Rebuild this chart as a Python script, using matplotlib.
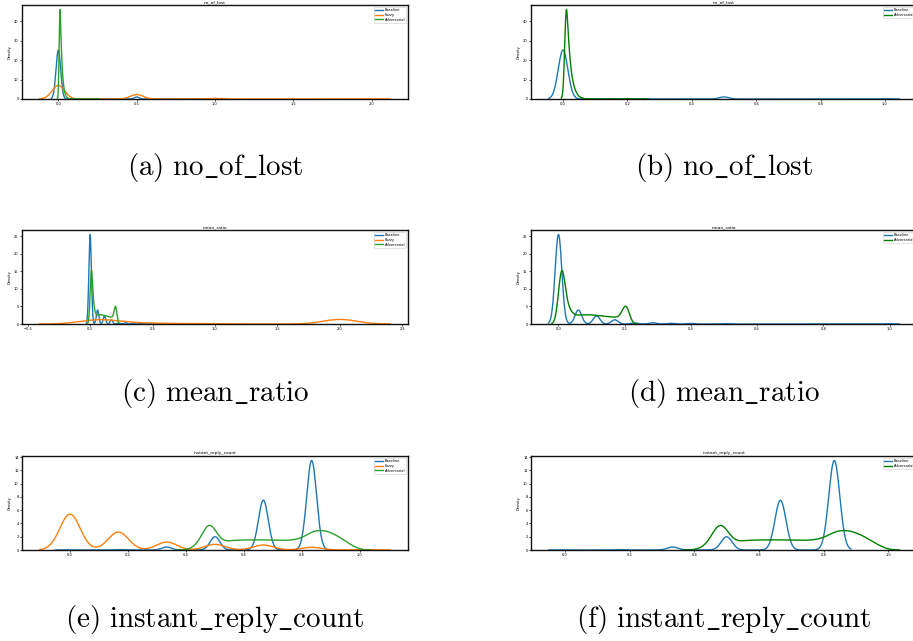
import numpy as np
import matplotlib
matplotlib.use("Agg")
import matplotlib.pyplot as plt
from matplotlib.ticker import MultipleLocator

# ---- observed values (location) and their relative weights per series ----
# no_of_lost
baseline_lost_vals = [0.0, 0.5, 1.0]
baseline_lost_wts = [0.95, 0.04, 0.005]
fuzzy_lost_vals = [0.0, 0.5, 1.0, 2.0]
fuzzy_lost_wts = [0.70, 0.23, 0.03, 0.01]
adv_lost_vals = [0.01, 0.02, 0.03, 0.04, 0.05, 0.06, 0.08, 0.10, 0.15, 0.20, 0.25]
adv_lost_wts = [0.545, 0.22, 0.09, 0.035, 0.012, 0.005, 0.002, 0.002, 0.002, 0.002, 0.002]

# mean_ratio
baseline_ratio_vals = [0.0, 0.06, 0.115, 0.17, 0.23, 0.285, 0.34, 0.40, 0.50, 1.0]
baseline_ratio_wts = [0.64, 0.10, 0.058, 0.03, 0.0075, 0.009, 0.005, 0.004, 0.002, 0.002]
fuzzy_ratio_vals = [0.0, 0.1, 0.2, 0.3, 0.5, 0.75, 1.0, 2.0]
fuzzy_ratio_wts = [0.20, 0.17, 0.10, 0.05, 0.06, 0.03, 0.03, 0.44]
adv_ratio_vals = [0.01, 0.03, 0.05, 0.07, 0.09, 0.11, 0.13, 0.15, 0.17, 0.19, 0.205]
adv_ratio_wts = [0.37, 0.09, 0.05, 0.052, 0.053, 0.05, 0.046, 0.042, 0.038, 0.045, 0.11]

# instant_reply_count
baseline_irc_vals = [0.0, 1 / 6, 2 / 6, 3 / 6, 4 / 6, 5 / 6]
baseline_irc_wts = [0.001, 0.002, 0.019, 0.085, 0.32, 0.575]
fuzzy_irc_vals = [0.0, 1 / 6, 2 / 6, 3 / 6, 4 / 6, 5 / 6, 1.0]
fuzzy_irc_wts = [0.474, 0.237, 0.105, 0.075, 0.066, 0.035, 0.005]
adv_irc_vals = [0.44, 0.48, 0.52, 0.56, 0.60, 0.64, 0.68, 0.72, 0.76, 0.80, 0.84, 0.88, 0.92, 0.96]
adv_irc_wts = [0.02, 0.215, 0.04, 0.06, 0.06, 0.062, 0.06, 0.058, 0.058, 0.07, 0.12, 0.12, 0.09, 0.04]

# kernel bandwidths
bandwidths = {
    "no_of_lost": {"Baseline": 0.015, "Fuzzy": 0.04, "Adversarial": 0.005},
    "mean_ratio": {"Baseline": 0.01, "Fuzzy": 0.135, "Adversarial": 0.01},
    "instant_reply_count": {"Baseline": 0.017, "Fuzzy": 0.035, "Adversarial": 0.025},
}

samples = {
    "no_of_lost": {
        "Baseline": (baseline_lost_vals, baseline_lost_wts),
        "Fuzzy": (fuzzy_lost_vals, fuzzy_lost_wts),
        "Adversarial": (adv_lost_vals, adv_lost_wts),
    },
    "mean_ratio": {
        "Baseline": (baseline_ratio_vals, baseline_ratio_wts),
        "Fuzzy": (fuzzy_ratio_vals, fuzzy_ratio_wts),
        "Adversarial": (adv_ratio_vals, adv_ratio_wts),
    },
    "instant_reply_count": {
        "Baseline": (baseline_irc_vals, baseline_irc_wts),
        "Fuzzy": (fuzzy_irc_vals, fuzzy_irc_wts),
        "Adversarial": (adv_irc_vals, adv_irc_wts),
    },
}

metrics = ["no_of_lost", "mean_ratio", "instant_reply_count"]
captions = [("(a)", "(b)"), ("(c)", "(d)"), ("(e)", "(f)")]
x_steps = {"no_of_lost": (0.5, 0.2), "mean_ratio": (0.5, 0.2), "instant_reply_count": (0.2, 0.2)}
y_steps = {"no_of_lost": 10, "mean_ratio": 5, "instant_reply_count": 2}

left_colors = {"Baseline": "#1f77b4", "Fuzzy": "#ff7f0e", "Adversarial": "#2ca02c"}
right_colors = {"Baseline": "#1f77b4", "Adversarial": "green"}


def kde_curve(vals, wts, bw, n=1500):
    vals = np.asarray(vals, dtype=float)
    wts = np.asarray(wts, dtype=float)
    x = np.linspace(vals.min() - 3 * bw, vals.max() + 3 * bw, n)
    z = (x[:, None] - vals[None, :]) / bw
    y = (wts[None, :] * np.exp(-0.5 * z ** 2)).sum(axis=1) / (bw * np.sqrt(2 * np.pi))
    return x, y


plt.rcParams["mathtext.fontset"] = "cm"
small = 2.6

W, H = 913, 641
fig = plt.figure(figsize=(W / 100, H / 100), dpi=100)

ax_w, ax_h = 386, 94
col_left = [22, 531]
row_top = [5, 230, 456]
caption_y = [167, 393, 619]


def style_axes(ax, title, xstep, ystep):
    ax.set_title(title, fontsize=3.2, pad=1.2)
    ax.set_ylabel("Density", fontsize=small, labelpad=1.5)
    ax.xaxis.set_major_locator(MultipleLocator(xstep))
    ax.yaxis.set_major_locator(MultipleLocator(ystep))
    ax.tick_params(labelsize=small, length=1.2, width=0.5, pad=1.2)
    for s in ax.spines.values():
        s.set_linewidth(1.0)
        s.set_color("#111111")
    ax.set_ylim(bottom=0)
    ax.legend(loc="upper right", fontsize=small, handlelength=2.2,
              borderpad=0.3, labelspacing=0.25, handletextpad=0.5,
              framealpha=1, edgecolor="#cccccc", fancybox=True).get_frame().set_linewidth(0.4)


for r, metric in enumerate(metrics):
    for c in range(2):
        l = col_left[c] / W
        b = 1 - (row_top[r] + ax_h) / H
        ax = fig.add_axes([l, b, ax_w / W, ax_h / H])
        groups = ["Baseline", "Fuzzy", "Adversarial"] if c == 0 else ["Baseline", "Adversarial"]
        colors = left_colors if c == 0 else right_colors
        for g in groups:
            vals, wts = samples[metric][g]
            x, y = kde_curve(vals, wts, bandwidths[metric][g])
            ax.plot(x, y, color=colors[g], lw=1.0, label=g)
        style_axes(ax, metric, x_steps[metric][c], y_steps[metric])
        cap = r"$\mathrm{%s\ %s}$" % (captions[r][c], metric.replace("_", r"\_"))
        fig.text((col_left[c] + ax_w / 2) / W, 1 - caption_y[r] / H, cap,
                 fontsize=21, ha="center", va="center")

fig.savefig("out.png", dpi=100)
